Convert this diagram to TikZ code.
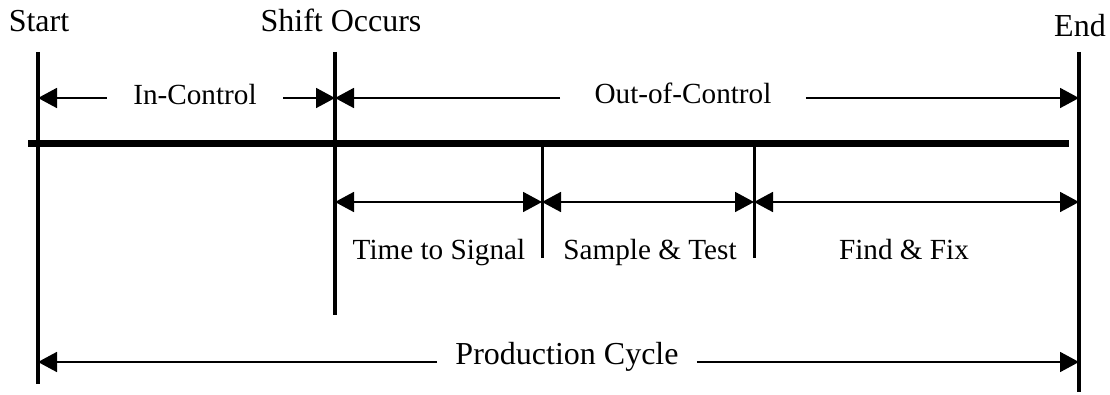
\documentclass[tikz,border=0pt]{standalone}
\usepackage{fontspec}
\setmainfont{Liberation Serif}
\usetikzlibrary{arrows.meta}

\begin{document}
\begin{tikzpicture}[x=0.5pt, y=-0.5pt, >={Triangle[length=9.5pt,width=10pt]},
      txt/.style={font=\fontsize{16}{19}\selectfont, inner ysep=0pt, inner xsep=0pt, anchor=base},
      small txt/.style={txt, font=\fontsize{14.6}{17}\selectfont},
      bound/.style={line width=2pt},
      mark line/.style={line width=1.5pt},
      time bar/.style={line width=3.5pt},
      span/.style={line width=0.9pt}]

      \useasboundingbox (0,0) rectangle (1110,395);

      % ends of the vertical marks
      \coordinate (S0) at (38,52);   \coordinate (S1) at (38,384);
      \coordinate (H0) at (335,52);  \coordinate (H1) at (335,315);
      \coordinate (E0) at (1079,52); \coordinate (E1) at (1079,392);
      \coordinate (T0) at (542,144); \coordinate (T1) at (542,258);
      \coordinate (F0) at (754,144); \coordinate (F1) at (754,258);
      \coordinate (B0) at (28,144);  \coordinate (B1) at (1069,144);

      \node[txt] (start) at (39,32) {Start};
      \node[txt] (shift) at (341,32) {Shift Occurs};
      \node[txt] (end) at (1080,37) {End};

      \draw[time bar] (B0) -- (B1);
      \draw[bound] (S0) -- (S1);
      \draw[bound] (H0) -- (H1);
      \draw[bound] (E0) -- (E1);
      \draw[mark line] (T0) -- (T1);
      \draw[mark line] (F0) -- (F1);

      % top spans
      \coordinate (a1) at (38,98); \coordinate (a2) at (335,98); \coordinate (a3) at (1079,98);
      \node[small txt, inner xsep=13pt] (inctl) at (195,105) {In-Control};
      \node[small txt, inner xsep=17pt] (outctl) at (683,104) {Out-of-Control};
      \draw[span,->] (inctl.west |- a1) -- (a1);
      \draw[span,->] (inctl.east |- a1) -- (a2);
      \draw[span,->] (outctl.west |- a1) -- (a2);
      \draw[span,->] (outctl.east |- a1) -- (a3);

      % spans below the bar
      \coordinate (m1) at (335,202); \coordinate (m2) at (542,202);
      \coordinate (m3) at (754,202); \coordinate (m4) at (1079,202);
      \path[span, <->]
        (m1) edge (m2)
        (m2) edge (m3)
        (m3) edge (m4);

      \node[small txt] (signal) at (439,260) {Time to Signal};
      \node[small txt] (sample) at (650,260) {Sample \& Test};
      \node[small txt] (fix) at (904,260) {Find \& Fix};

      % whole cycle
      \coordinate (c1) at (38,362); \coordinate (c2) at (1079,362);
      \node[txt, inner xsep=9pt] (cycle) at (567,365) {Production Cycle};
      \draw[span,->] (cycle.west |- c1) -- (c1);
      \draw[span,->] (cycle.east |- c1) -- (c2);
\end{tikzpicture}
\end{document}
